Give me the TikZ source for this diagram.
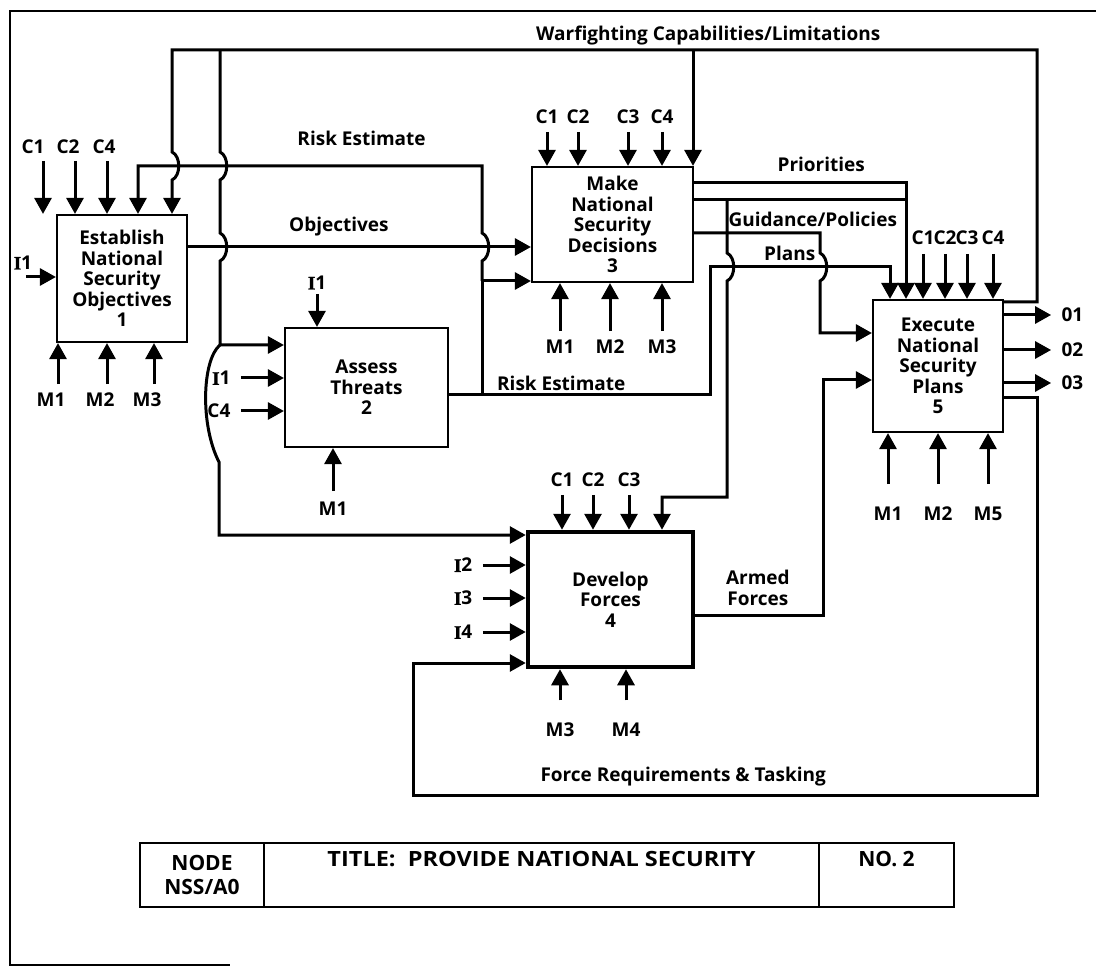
\documentclass[tikz,border=0pt]{standalone}
\usepackage{graphicx}
\usepackage{fontspec}
\setmainfont{Open Sans}
\newfontfamily\serfont{Liberation Serif}[FakeBold=1.5]
\usetikzlibrary{arrows.meta}
\newcommand{\serI}{{\serfont I}}
\begin{document}
\begin{tikzpicture}[x=1pt,y=-1pt,
  every node/.style={font=\fontsize{19}{20.5}\selectfont\bfseries},
  actbox/.style={draw,line width=2.2pt,align=center,inner sep=2pt},
  lbl/.style={inner sep=1pt},
  wire/.style={line width=3pt},
  arr/.style={line width=3pt,-{Triangle[length=16pt,width=17pt]}},
  tcell/.style={draw,line width=2.2pt,outer sep=0pt,minimum height=64pt,align=center,
    font=\fontsize{21}{24}\selectfont\bfseries}]
\useasboundingbox (0,0) rectangle (1096,968);
% sheet border
\draw[line width=2.4pt] (1096,11) -- (10,11) -- (10,965) -- (230,965);

% activities
\node[actbox,minimum width=130pt,minimum height=127pt] (est) at (122,278.5) {Establish\\National\\Security\\Objectives\\1};
\node[actbox,minimum width=163pt,minimum height=119pt] (asm) at (366.5,387.5) {Assess\\Threats\\2};
\node[actbox,minimum width=161pt,minimum height=115pt] (mkd) at (612.5,224.5) {Make\\National\\Security\\Decisions\\3};
\node[actbox,line width=4.5pt,minimum width=165pt,minimum height=135pt] (dev) at (610.5,599.5) {Develop\\Forces\\4};
\node[actbox,minimum width=130pt,minimum height=132pt] (exe) at (938,366) {Execute\\National\\Security\\Plans\\5};

% box 1 stubs
\draw[arr] (est.north -| 43,0) ++(0,-53) node[lbl,above=5pt,xshift=-10pt] (estc1) {C1} -- (est.north -| 43,0);
\draw[arr] (est.north -| 75,0) ++(0,-53) node[lbl,above=5pt,xshift=-7pt] (estc2) {C2} -- (est.north -| 75,0);
\draw[arr] (est.north -| 107,0) ++(0,-53) node[lbl,above=5pt,xshift=-3pt] (estc4) {C4} -- (est.north -| 107,0);
\draw[arr] (est.west |- 0,277) ++(-30,0) node[lbl,above=5pt,xshift=-3pt] (esti1) {\serI 1} -- (est.west |- 0,277);
\draw[arr] (est.south -| 58,0) ++(0,41) node[lbl,below=6pt,xshift=-7pt] (estm1) {M1} -- (est.south -| 58,0);
\draw[arr] (est.south -| 107,0) ++(0,41) node[lbl,below=6pt,xshift=-7pt] (estm2) {M2} -- (est.south -| 107,0);
\draw[arr] (est.south -| 154,0) ++(0,41) node[lbl,below=6pt,xshift=-7pt] (estm3) {M3} -- (est.south -| 154,0);

% box 2 stubs
\draw[arr] (asm.north -| 317,0) ++(0,-33) node[lbl,above=2pt] (asmi0) {\serI 1} -- (asm.north -| 317,0);
\draw[arr] (asm.west |- 0,378) ++(-43,0) node[lbl,left=8pt] (asmi1) {\serI 1} -- (asm.west |- 0,378);
\draw[arr] (asm.west |- 0,411) ++(-43,0) node[lbl,left=8pt] (asmc4) {C4} -- (asm.west |- 0,411);
\draw[arr] (asm.south -| 333,0) ++(0,43) node[lbl,below=8pt] (asmm1) {M1} -- (asm.south -| 333,0);

% box 3 stubs
\draw[arr] (mkd.north -| 547,0) ++(0,-34) node[lbl,above=6pt] (mkdc1) {C1} -- (mkd.north -| 547,0);
\draw[arr] (mkd.north -| 578,0) ++(0,-34) node[lbl,above=6pt] (mkdc2) {C2} -- (mkd.north -| 578,0);
\draw[arr] (mkd.north -| 628,0) ++(0,-34) node[lbl,above=6pt] (mkdc3) {C3} -- (mkd.north -| 628,0);
\draw[arr] (mkd.north -| 662,0) ++(0,-34) node[lbl,above=6pt] (mkdc4) {C4} -- (mkd.north -| 662,0);
\draw[arr] (mkd.south -| 560,0) ++(0,48) node[lbl,below=6pt] (mkdm1) {M1} -- (mkd.south -| 560,0);
\draw[arr] (mkd.south -| 610,0) ++(0,48) node[lbl,below=6pt] (mkdm2) {M2} -- (mkd.south -| 610,0);
\draw[arr] (mkd.south -| 662,0) ++(0,48) node[lbl,below=6pt] (mkdm3) {M3} -- (mkd.south -| 662,0);

% box 4 stubs
\draw[arr] (dev.north -| 562,0) ++(0,-35) node[lbl,above=6pt] (devc1) {C1} -- (dev.north -| 562,0);
\draw[arr] (dev.north -| 593,0) ++(0,-35) node[lbl,above=6pt] (devc2) {C2} -- (dev.north -| 593,0);
\draw[arr] (dev.north -| 629,0) ++(0,-35) node[lbl,above=6pt] (devc3) {C3} -- (dev.north -| 629,0);
\draw[arr] (dev.west |- 0,565) ++(-43,0) node[lbl,left=8pt] (devi2) {\serI 2} -- (dev.west |- 0,565);
\draw[arr] (dev.west |- 0,598) ++(-43,0) node[lbl,left=8pt] (devi3) {\serI 3} -- (dev.west |- 0,598);
\draw[arr] (dev.west |- 0,632) ++(-43,0) node[lbl,left=8pt] (devi4) {\serI 4} -- (dev.west |- 0,632);
\draw[arr] (dev.south -| 560,0) ++(0,31) node[lbl,below=20pt] (devm3) {M3} -- (dev.south -| 560,0);
\draw[arr] (dev.south -| 626,0) ++(0,31) node[lbl,below=20pt] (devm4) {M4} -- (dev.south -| 626,0);

% box 5 stubs
\draw[arr] (exe.north -| 923,0) ++(0,-45) node[lbl,above=7pt] (exec1) {C1} -- (exe.north -| 923,0);
\draw[arr] (exe.north -| 945,0) ++(0,-45) node[lbl,above=7pt] (exec2) {C2} -- (exe.north -| 945,0);
\draw[arr] (exe.north -| 967,0) ++(0,-45) node[lbl,above=7pt] (exec3) {C3} -- (exe.north -| 967,0);
\draw[arr] (exe.north -| 993,0) ++(0,-45) node[lbl,above=7pt] (exec4) {C4} -- (exe.north -| 993,0);
\draw[arr] (exe.south -| 888,0) ++(0,51) node[lbl,below=20pt] (exem1) {M1} -- (exe.south -| 888,0);
\draw[arr] (exe.south -| 938,0) ++(0,51) node[lbl,below=20pt] (exem2) {M2} -- (exe.south -| 938,0);
\draw[arr] (exe.south -| 988,0) ++(0,51) node[lbl,below=20pt] (exem5) {M5} -- (exe.south -| 988,0);
\draw[arr] (exe.east |- 0,315) -- ++(47,0) node[lbl,right=8pt] (exeo1) {01};
\draw[arr] (exe.east |- 0,350) -- ++(47,0) node[lbl,right=8pt] (exeo2) {02};
\draw[arr] (exe.east |- 0,383) -- ++(47,0) node[lbl,right=8pt] (exeo3) {03};

% warfighting capabilities loop
\coordinate (wfa) at (693,50);
\coordinate (wfb) at (220,50);
\draw[arr] (exe.east |- 0,302) -| (1037,50) -- node[lbl,above=2pt,pos=0.38] (wfl) {Warfighting Capabilities/Limitations} (172,50) -- (172,152) .. controls (181,156) and (181,176) .. (172,180) -- (est.north -| 172,0);
\draw[arr] (wfa) -- (wfa |- mkd.north);
\draw[arr] (wfb) -- (220,152) .. controls (229,156) and (229,176) .. (220,180) -- (220,233) .. controls (229,237) and (229,257) .. (220,261) -- (220,345) -- (asm.west |- 0,345);
\draw[arr] (220,345) .. controls (202,360) and (200,425) .. (219,462) -- (219,535) -- (dev.west |- 0,535);

% objectives
\draw[arr] (est.east |- 0,247) -- node[lbl,above=8pt,pos=0.44] (objl) {Objectives} (mkd.west |- 0,247);

% risk estimate
\coordinate (rej) at (482,395);
\coordinate (rek) at (482,281);
\draw[arr] (asm.east |- 0,395) -- node[lbl,above=2pt,pos=0.43] (rel2) {Risk Estimate} (710,395) -- (710,267) -- (890,267) -- (exe.north -| 890,0);
\draw[arr] (rej) -- (rek) -- (mkd.west |- rek);
\draw[arr] (rek) -- (482,261) .. controls (491,257) and (491,237) .. (482,233) -- (482,166) -- node[lbl,above=18pt,pos=0.35] (rel1) {Risk Estimate} (138,166) -- (est.north -| 138,0);

% priorities, guidance, plans
\draw[arr] (mkd.east |- 0,183) -- node[lbl,above=9pt,pos=0.6] (prl) {Priorities} (906,183) -- (exe.north -| 906,0);
\draw[wire] (mkd.east |- 0,200) -- node[lbl,below=10pt,pos=0.56] (gpl) {Guidance/Policies} (906,200);
\coordinate (gpj) at (727,200);
\draw[arr] (gpj) -- (727,253) .. controls (736,257) and (736,277) .. (727,281) -- (727,497) -- (662,497) -- (dev.north -| 662,0);
\draw[arr] (mkd.east |- 0,233) -- node[lbl,below=11pt,pos=0.76] (pll) {Plans} (820,233) -- (820,253) .. controls (829,257) and (829,277) .. (820,281) -- (820,333) -- (exe.west |- 0,333);

% armed forces and tasking
\draw[arr] (dev.east |- 0,615) -- node[lbl,above=7pt,pos=0.49,align=center] (afl) {Armed\\Forces} (823,615) -- (823,380) -- (exe.west |- 0,380);
\draw[arr] (exe.east |- 0,398) -- (1037,398) -- (1037,795) -- node[lbl,above=6pt,pos=0.567] (frl) {Force Requirements \& Tasking} (413,795) -- (413,663) -- (dev.west |- 0,663);

% title block
\node[tcell,minimum width=124pt] (tnode) at (202,875) {NODE\\NSS/A0};
\node[tcell,minimum width=555pt,anchor=west] (ttl) at (tnode.east) {};
\node[tcell,minimum width=135pt,anchor=west] (tno) at (ttl.east) {};
\node[anchor=north,font=\fontsize{21}{24}\selectfont\bfseries] (ttltxt) at ([yshift=-5pt]ttl.north) {\scalebox{1.12}[1]{TITLE:\ \ PROVIDE NATIONAL SECURITY}};
\node[anchor=north,font=\fontsize{21}{24}\selectfont\bfseries] (tnotxt) at ([yshift=-5pt]tno.north) {NO. 2};
\end{tikzpicture}
\end{document}
